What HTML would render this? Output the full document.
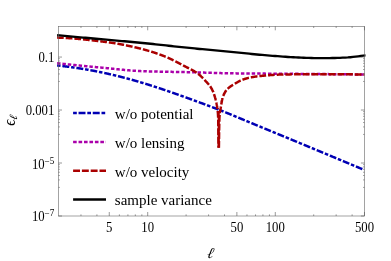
<!DOCTYPE html>
<html><head><meta charset="utf-8"><style>
html,body{margin:0;padding:0;background:#fff;}
svg{display:block;will-change:transform;font-family:"Liberation Serif",serif;}
</style></head><body>
<svg width="391" height="261" viewBox="0 0 391 261">
<rect width="391" height="261" fill="#fff"/>
<defs><clipPath id="c"><rect x="57.1" y="26.3" width="308.4" height="189.7"/></clipPath></defs>
<g clip-path="url(#c)" fill="none" stroke-linecap="butt" stroke-linejoin="round">
<path d="M57.00 65.44 L57.30 65.47 L57.60 65.50 L57.89 65.54 L58.19 65.57 L58.49 65.60 L58.79 65.64 L59.09 65.67 L59.39 65.70 L59.68 65.74 L59.98 65.77 L60.28 65.80 L60.53 65.83 M62.37 66.05 L62.66 66.08 L62.96 66.12 L63.26 66.15 L63.56 66.19 L63.86 66.22 L64.15 66.26 L64.45 66.30 L64.75 66.33 L65.05 66.37 L65.34 66.41 L65.64 66.44 L65.94 66.48 L66.24 66.52 L66.53 66.56 L66.83 66.59 L67.13 66.63 L67.43 66.67 L67.72 66.71 L68.02 66.75 L68.32 66.79 L68.62 66.83 L68.91 66.86 L69.21 66.90 L69.26 66.91 M71.10 67.16 L71.39 67.20 L71.69 67.24 L71.99 67.28 L72.28 67.32 L72.58 67.36 L72.88 67.40 L73.18 67.44 L73.47 67.49 L73.77 67.53 L74.07 67.57 L74.36 67.61 L74.56 67.64 M76.39 67.91 L76.69 67.95 L76.99 68.00 L77.28 68.04 L77.58 68.09 L77.88 68.13 L78.17 68.18 L78.47 68.22 L78.77 68.27 L79.06 68.31 L79.36 68.36 L79.65 68.40 L79.95 68.45 L80.25 68.50 L80.54 68.54 L80.84 68.59 L81.14 68.64 L81.43 68.68 L81.73 68.73 L82.03 68.78 L82.32 68.83 L82.62 68.87 L82.91 68.92 L83.21 68.97 L83.26 68.98 M85.08 69.28 L85.38 69.33 L85.68 69.38 L85.97 69.43 L86.27 69.48 L86.56 69.53 L86.86 69.58 L87.15 69.63 L87.45 69.69 L87.75 69.74 L88.04 69.79 L88.34 69.84 L88.53 69.88 M90.35 70.20 L90.65 70.25 L90.95 70.31 L91.24 70.36 L91.54 70.41 L91.83 70.47 L92.13 70.52 L92.42 70.58 L92.72 70.63 L93.01 70.69 L93.31 70.74 L93.60 70.80 L93.89 70.85 L94.19 70.91 L94.48 70.97 L94.78 71.02 L95.07 71.08 L95.37 71.14 L95.66 71.19 L95.96 71.25 L96.25 71.31 L96.55 71.36 L96.84 71.42 L97.13 71.48 L97.18 71.49 M99.00 71.85 L99.29 71.91 L99.59 71.97 L99.88 72.03 L100.17 72.09 L100.47 72.15 L100.76 72.21 L101.06 72.27 L101.35 72.33 L101.64 72.39 L101.94 72.45 L102.23 72.52 L102.43 72.56 M104.24 72.94 L104.53 73.00 L104.82 73.07 L105.12 73.13 L105.41 73.19 L105.70 73.26 L106.00 73.32 L106.29 73.39 L106.58 73.45 L106.87 73.51 L107.17 73.58 L107.46 73.64 L107.75 73.71 L108.05 73.77 L108.34 73.84 L108.63 73.91 L108.92 73.97 L109.22 74.04 L109.51 74.10 L109.80 74.17 L110.09 74.24 L110.39 74.31 L110.68 74.37 L110.97 74.44 L111.02 74.45 M112.82 74.87 L113.11 74.94 L113.41 75.01 L113.70 75.08 L113.99 75.15 L114.28 75.22 L114.57 75.29 L114.86 75.36 L115.16 75.43 L115.45 75.50 L115.74 75.57 L116.03 75.64 L116.23 75.69 M118.02 76.13 L118.31 76.20 L118.60 76.27 L118.90 76.34 L119.19 76.42 L119.48 76.49 L119.77 76.56 L120.06 76.64 L120.35 76.71 L120.64 76.78 L120.93 76.86 L121.22 76.93 L121.51 77.01 L121.80 77.08 L122.09 77.16 L122.38 77.23 L122.67 77.31 L122.97 77.38 L123.26 77.46 L123.55 77.53 L123.84 77.61 L124.13 77.68 L124.42 77.76 L124.71 77.84 L124.76 77.85 M126.54 78.32 L126.83 78.40 L127.12 78.48 L127.41 78.56 L127.70 78.63 L127.99 78.71 L128.28 78.79 L128.57 78.87 L128.86 78.95 L129.15 79.03 L129.44 79.11 L129.73 79.19 L129.92 79.24 M131.70 79.73 L131.99 79.81 L132.28 79.90 L132.57 79.98 L132.86 80.06 L133.15 80.14 L133.44 80.22 L133.73 80.30 L134.01 80.38 L134.30 80.47 L134.59 80.55 L134.88 80.63 L135.17 80.71 L135.46 80.80 L135.74 80.88 L136.03 80.96 L136.32 81.04 L136.61 81.13 L136.90 81.21 L137.19 81.30 L137.47 81.38 L137.76 81.46 L138.05 81.55 L138.34 81.63 L138.39 81.65 M140.16 82.17 L140.45 82.25 L140.74 82.34 L141.02 82.43 L141.31 82.51 L141.60 82.60 L141.88 82.68 L142.17 82.77 L142.46 82.86 L142.75 82.94 L143.03 83.03 L143.32 83.12 L143.51 83.18 M145.28 83.72 L145.57 83.80 L145.86 83.89 L146.14 83.98 L146.43 84.07 L146.71 84.16 L147.00 84.25 L147.29 84.34 L147.57 84.42 L147.86 84.51 L148.15 84.60 L148.43 84.69 L148.72 84.78 L149.01 84.87 L149.29 84.96 L149.58 85.05 L149.86 85.14 L150.15 85.23 L150.44 85.32 L150.72 85.41 L151.01 85.50 L151.29 85.59 L151.58 85.69 L151.87 85.78 L151.91 85.79 M153.68 86.36 L153.96 86.45 L154.25 86.54 L154.53 86.63 L154.82 86.73 L155.10 86.82 L155.39 86.91 L155.67 87.00 L155.96 87.10 L156.24 87.19 L156.53 87.28 L156.81 87.38 L157.00 87.44 M158.76 88.02 L159.05 88.11 L159.33 88.21 L159.62 88.30 L159.90 88.40 L160.18 88.49 L160.47 88.59 L160.75 88.68 L161.04 88.77 L161.32 88.87 L161.61 88.97 L161.89 89.06 L162.18 89.16 L162.46 89.25 L162.75 89.35 L163.03 89.44 L163.31 89.54 L163.60 89.64 L163.88 89.73 L164.17 89.83 L164.45 89.92 L164.73 90.02 L165.02 90.12 L165.30 90.21 L165.35 90.23 M167.10 90.83 L167.38 90.93 L167.67 91.02 L167.95 91.12 L168.24 91.22 L168.52 91.32 L168.80 91.41 L169.09 91.51 L169.37 91.61 L169.65 91.71 L169.94 91.81 L170.22 91.90 L170.41 91.97 M172.16 92.58 L172.44 92.68 L172.72 92.78 L173.01 92.87 L173.29 92.97 L173.57 93.07 L173.85 93.17 L174.14 93.27 L174.42 93.37 L174.70 93.47 L174.99 93.57 L175.27 93.67 L175.55 93.77 L175.84 93.87 L176.12 93.97 L176.40 94.07 L176.68 94.17 L176.97 94.27 L177.25 94.37 L177.53 94.47 L177.82 94.57 L178.10 94.67 L178.38 94.77 L178.66 94.87 L178.71 94.89 M180.45 95.51 L180.74 95.61 L181.02 95.71 L181.30 95.81 L181.58 95.91 L181.87 96.01 L182.15 96.12 L182.43 96.22 L182.71 96.32 L183.00 96.42 L183.28 96.52 L183.56 96.62 L183.75 96.69 M185.49 97.32 L185.77 97.42 L186.05 97.52 L186.34 97.62 L186.62 97.72 L186.90 97.82 L187.18 97.93 L187.46 98.03 L187.75 98.13 L188.03 98.23 L188.31 98.33 L188.59 98.44 L188.88 98.54 L189.16 98.64 L189.44 98.74 L189.72 98.84 L190.00 98.95 L190.29 99.05 L190.57 99.15 L190.85 99.25 L191.13 99.36 L191.41 99.46 L191.70 99.56 L191.98 99.66 L192.02 99.68 M193.76 100.31 L194.05 100.41 L194.33 100.52 L194.61 100.62 L194.89 100.72 L195.17 100.83 L195.45 100.93 L195.74 101.03 L196.02 101.13 L196.30 101.24 L196.58 101.34 L196.86 101.44 L197.05 101.51 M198.79 102.15 L199.07 102.25 L199.35 102.35 L199.63 102.46 L199.92 102.56 L200.20 102.66 L200.48 102.77 L200.76 102.87 L201.04 102.97 L201.32 103.08 L201.61 103.18 L201.89 103.28 L202.17 103.39 L202.45 103.49 L202.73 103.59 L203.01 103.70 L203.29 103.80 L203.58 103.91 L203.86 104.01 L204.14 104.11 L204.42 104.22 L204.70 104.32 L204.98 104.43 L205.26 104.53 L205.31 104.55 M207.04 105.19 L207.33 105.30 L207.61 105.40 L207.89 105.51 L208.17 105.61 L208.45 105.72 L208.73 105.83 L209.01 105.93 L209.29 106.04 L209.57 106.14 L209.85 106.25 L210.13 106.35 L210.32 106.42 M212.05 107.08 L212.33 107.19 L212.61 107.29 L212.89 107.40 L213.17 107.51 L213.45 107.61 L213.73 107.72 L214.01 107.83 L214.29 107.94 L214.57 108.04 L214.85 108.15 L215.13 108.26 L215.41 108.37 L215.69 108.47 L215.97 108.58 L216.25 108.69 L216.53 108.80 L216.81 108.91 L217.09 109.02 L217.37 109.12 L217.65 109.23 L217.93 109.34 L218.21 109.45 L218.49 109.56 L218.54 109.58 M220.26 110.26 L220.54 110.37 L220.82 110.48 L221.09 110.59 L221.37 110.70 L221.65 110.81 L221.93 110.92 L222.21 111.03 L222.49 111.14 L222.77 111.25 L223.05 111.36 L223.32 111.47 L223.51 111.55 M225.23 112.24 L225.51 112.35 L225.78 112.46 L226.06 112.57 L226.34 112.69 L226.62 112.80 L226.90 112.91 L227.17 113.03 L227.45 113.14 L227.73 113.25 L228.01 113.36 L228.29 113.48 L228.56 113.59 L228.84 113.70 L229.12 113.82 L229.40 113.93 L229.67 114.05 L229.95 114.16 L230.23 114.27 L230.51 114.39 L230.78 114.50 L231.06 114.61 L231.34 114.73 L231.62 114.84 L231.66 114.86 M233.37 115.57 L233.65 115.68 L233.93 115.80 L234.20 115.91 L234.48 116.03 L234.76 116.14 L235.04 116.26 L235.31 116.37 L235.59 116.49 L235.87 116.60 L236.14 116.72 L236.42 116.83 L236.61 116.91 M238.31 117.62 L238.59 117.73 L238.87 117.85 L239.15 117.96 L239.42 118.08 L239.70 118.19 L239.98 118.31 L240.25 118.42 L240.53 118.54 L240.81 118.66 L241.08 118.77 L241.36 118.89 L241.64 119.00 L241.91 119.12 L242.19 119.23 L242.47 119.35 L242.75 119.46 L243.02 119.58 L243.30 119.69 L243.58 119.81 L243.85 119.92 L244.13 120.04 L244.41 120.15 L244.68 120.27 L244.73 120.29 M246.44 121.00 L246.71 121.12 L246.99 121.23 L247.27 121.35 L247.55 121.46 L247.82 121.58 L248.10 121.69 L248.38 121.81 L248.65 121.92 L248.93 122.04 L249.21 122.15 L249.48 122.27 L249.67 122.34 M251.38 123.05 L251.66 123.17 L251.93 123.28 L252.21 123.40 L252.49 123.51 L252.76 123.63 L253.04 123.74 L253.32 123.86 L253.59 123.97 L253.87 124.09 L254.15 124.20 L254.43 124.32 L254.70 124.43 L254.98 124.55 L255.26 124.66 L255.54 124.78 L255.81 124.89 L256.09 125.01 L256.37 125.12 L256.64 125.24 L256.92 125.35 L257.20 125.46 L257.48 125.58 L257.75 125.69 L257.80 125.71 M259.51 126.42 L259.79 126.53 L260.06 126.65 L260.34 126.76 L260.62 126.88 L260.90 126.99 L261.17 127.11 L261.45 127.22 L261.73 127.33 L262.00 127.45 L262.28 127.56 L262.56 127.68 L262.74 127.75 M264.45 128.46 L264.73 128.57 L265.01 128.69 L265.29 128.80 L265.56 128.92 L265.84 129.03 L266.12 129.14 L266.40 129.26 L266.67 129.37 L266.95 129.49 L267.23 129.60 L267.51 129.72 L267.78 129.83 L268.06 129.94 L268.34 130.06 L268.62 130.17 L268.89 130.29 L269.17 130.40 L269.45 130.52 L269.72 130.63 L270.00 130.75 L270.28 130.86 L270.56 130.97 L270.83 131.09 L270.88 131.11 M272.59 131.81 L272.87 131.93 L273.15 132.04 L273.42 132.15 L273.70 132.27 L273.98 132.38 L274.26 132.50 L274.53 132.61 L274.81 132.73 L275.09 132.84 L275.36 132.96 L275.64 133.07 L275.83 133.15 M277.54 133.85 L277.81 133.97 L278.09 134.08 L278.37 134.19 L278.65 134.31 L278.92 134.42 L279.20 134.54 L279.48 134.65 L279.76 134.77 L280.03 134.88 L280.31 135.00 L280.59 135.11 L280.86 135.22 L281.14 135.34 L281.42 135.45 L281.70 135.57 L281.97 135.68 L282.25 135.80 L282.53 135.91 L282.81 136.03 L283.08 136.14 L283.36 136.26 L283.64 136.37 L283.91 136.48 L283.96 136.50 M285.67 137.21 L285.95 137.33 L286.22 137.44 L286.50 137.55 L286.78 137.67 L287.06 137.78 L287.33 137.90 L287.61 138.01 L287.89 138.13 L288.17 138.24 L288.44 138.36 L288.72 138.47 L288.90 138.55 M290.61 139.26 L290.89 139.37 L291.17 139.49 L291.45 139.60 L291.72 139.72 L292.00 139.83 L292.28 139.94 L292.55 140.06 L292.83 140.17 L293.11 140.29 L293.39 140.40 L293.66 140.52 L293.94 140.63 L294.22 140.75 L294.49 140.86 L294.77 140.98 L295.05 141.09 L295.33 141.21 L295.60 141.32 L295.88 141.44 L296.16 141.55 L296.43 141.67 L296.71 141.78 L296.99 141.90 L297.03 141.92 M298.74 142.63 L299.02 142.74 L299.30 142.85 L299.57 142.97 L299.85 143.08 L300.13 143.20 L300.41 143.31 L300.68 143.43 L300.96 143.54 L301.24 143.66 L301.51 143.77 L301.79 143.89 L301.98 143.97 M303.68 144.68 L303.96 144.79 L304.24 144.91 L304.52 145.02 L304.79 145.14 L305.07 145.25 L305.35 145.37 L305.62 145.48 L305.90 145.60 L306.18 145.71 L306.46 145.83 L306.73 145.94 L307.01 146.06 L307.29 146.17 L307.56 146.29 L307.84 146.40 L308.12 146.52 L308.39 146.63 L308.67 146.75 L308.95 146.86 L309.23 146.98 L309.50 147.09 L309.78 147.21 L310.06 147.32 L310.10 147.34 M311.81 148.05 L312.09 148.17 L312.36 148.28 L312.64 148.40 L312.92 148.51 L313.20 148.63 L313.47 148.74 L313.75 148.86 L314.03 148.98 L314.30 149.09 L314.58 149.21 L314.86 149.32 L315.04 149.40 M316.75 150.11 L317.03 150.22 L317.30 150.34 L317.58 150.45 L317.86 150.57 L318.13 150.69 L318.41 150.80 L318.69 150.92 L318.97 151.03 L319.24 151.15 L319.52 151.26 L319.80 151.38 L320.07 151.49 L320.35 151.61 L320.63 151.72 L320.90 151.84 L321.18 151.95 L321.46 152.07 L321.74 152.18 L322.01 152.30 L322.29 152.42 L322.57 152.53 L322.84 152.65 L323.12 152.76 L323.17 152.78 M324.87 153.49 L325.15 153.61 L325.43 153.72 L325.70 153.84 L325.98 153.95 L326.26 154.07 L326.54 154.18 L326.81 154.30 L327.09 154.42 L327.37 154.53 L327.64 154.65 L327.92 154.76 L328.10 154.84 M329.81 155.55 L330.09 155.67 L330.37 155.78 L330.64 155.90 L330.92 156.01 L331.20 156.13 L331.47 156.24 L331.75 156.36 L332.03 156.47 L332.30 156.59 L332.58 156.71 L332.86 156.82 L333.13 156.94 L333.41 157.05 L333.69 157.17 L333.96 157.28 L334.24 157.40 L334.52 157.51 L334.80 157.63 L335.07 157.74 L335.35 157.86 L335.63 157.98 L335.90 158.09 L336.18 158.21 L336.23 158.23 M337.93 158.94 L338.21 159.05 L338.49 159.17 L338.76 159.29 L339.04 159.40 L339.32 159.52 L339.59 159.63 L339.87 159.75 L340.15 159.86 L340.42 159.98 L340.70 160.09 L340.98 160.21 L341.16 160.29 M342.87 161.00 L343.15 161.12 L343.42 161.23 L343.70 161.35 L343.98 161.46 L344.25 161.58 L344.53 161.69 L344.81 161.81 L345.09 161.92 L345.36 162.04 L345.64 162.16 L345.92 162.27 L346.19 162.39 L346.47 162.50 L346.75 162.62 L347.02 162.73 L347.30 162.85 L347.58 162.96 L347.85 163.08 L348.13 163.20 L348.41 163.31 L348.68 163.43 L348.96 163.54 L349.24 163.66 L349.28 163.68 M350.99 164.39 L351.27 164.51 L351.54 164.62 L351.82 164.74 L352.10 164.85 L352.37 164.97 L352.65 165.08 L352.93 165.20 L353.21 165.32 L353.48 165.43 L353.76 165.55 L354.04 165.66 L354.22 165.74 M355.93 166.45 L356.20 166.57 L356.48 166.68 L356.76 166.80 L357.03 166.92 L357.31 167.03 L357.59 167.15 L357.86 167.26 L358.14 167.38 L358.42 167.49 L358.69 167.61 L358.97 167.73 L359.25 167.84 L359.53 167.96 L359.80 168.07 L360.08 168.19 L360.36 168.30 L360.63 168.42 L360.91 168.54 L361.19 168.65 L361.46 168.77 L361.74 168.88 L362.02 169.00 L362.29 169.11 L362.34 169.13" stroke="#0000b4" stroke-width="2.5"/>
<path d="M57.00 63.20 L57.30 63.23 L57.60 63.26 L57.89 63.30 L58.19 63.33 L58.49 63.36 L58.79 63.39 L59.09 63.42 L59.39 63.46 L59.68 63.49 L59.98 63.52 L60.28 63.55 L60.48 63.57 M62.42 63.78 L62.72 63.81 L63.02 63.84 L63.31 63.87 L63.61 63.90 L63.91 63.94 L64.21 63.97 L64.51 64.00 L64.81 64.03 L65.10 64.06 L65.40 64.09 L65.70 64.12 L65.85 64.14 M67.79 64.34 L68.09 64.37 L68.39 64.40 L68.68 64.43 L68.98 64.47 L69.28 64.50 L69.58 64.53 L69.88 64.56 L70.18 64.59 L70.47 64.62 L70.77 64.65 L71.07 64.68 L71.22 64.70 M73.21 64.90 L73.51 64.93 L73.81 64.96 L74.10 64.99 L74.40 65.02 L74.70 65.05 L75.00 65.08 L75.30 65.11 L75.60 65.14 L75.89 65.17 L76.19 65.20 L76.49 65.23 L76.64 65.25 M78.58 65.44 L78.88 65.47 L79.18 65.50 L79.48 65.53 L79.78 65.56 L80.07 65.59 L80.37 65.62 L80.67 65.65 L80.97 65.68 L81.27 65.71 L81.57 65.74 L81.86 65.77 L82.01 65.79 M84.00 65.98 L84.30 66.01 L84.60 66.04 L84.90 66.07 L85.20 66.10 L85.50 66.13 L85.80 66.16 L86.09 66.19 L86.39 66.21 L86.69 66.24 L86.99 66.27 L87.29 66.30 L87.44 66.32 M89.38 66.50 L89.68 66.53 L89.98 66.56 L90.27 66.59 L90.57 66.62 L90.87 66.65 L91.17 66.67 L91.47 66.70 L91.77 66.73 L92.07 66.76 L92.36 66.79 L92.66 66.82 L92.81 66.83 M94.75 67.01 L95.05 67.04 L95.35 67.07 L95.65 67.10 L95.95 67.13 L96.25 67.15 L96.55 67.18 L96.84 67.21 L97.14 67.24 L97.44 67.26 L97.74 67.29 L98.04 67.32 L98.19 67.33 M100.18 67.52 L100.48 67.54 L100.78 67.57 L101.08 67.60 L101.37 67.63 L101.67 67.66 L101.97 67.68 L102.27 67.71 L102.57 67.74 L102.87 67.77 L103.17 67.80 L103.46 67.83 L103.61 67.84 M105.55 68.03 L105.85 68.06 L106.15 68.09 L106.45 68.12 L106.75 68.15 L107.05 68.18 L107.35 68.21 L107.64 68.24 L107.94 68.27 L108.24 68.30 L108.54 68.33 L108.84 68.36 L108.99 68.38 M110.98 68.58 L111.27 68.61 L111.57 68.64 L111.87 68.67 L112.17 68.70 L112.47 68.73 L112.77 68.76 L113.06 68.79 L113.36 68.82 L113.66 68.85 L113.96 68.88 L114.26 68.91 L114.41 68.93 M116.35 69.13 L116.65 69.16 L116.94 69.19 L117.24 69.22 L117.54 69.25 L117.84 69.28 L118.14 69.31 L118.44 69.34 L118.74 69.37 L119.03 69.39 L119.33 69.42 L119.63 69.45 L119.78 69.47 M121.72 69.66 L122.02 69.69 L122.32 69.72 L122.62 69.74 L122.91 69.77 L123.21 69.80 L123.51 69.83 L123.81 69.86 L124.11 69.89 L124.41 69.91 L124.71 69.94 L125.01 69.97 L125.15 69.98 M127.15 70.16 L127.45 70.19 L127.74 70.21 L128.04 70.24 L128.34 70.27 L128.64 70.29 L128.94 70.32 L129.24 70.34 L129.54 70.37 L129.84 70.39 L130.14 70.42 L130.43 70.44 L130.58 70.45 M132.53 70.60 L132.83 70.63 L133.13 70.65 L133.43 70.67 L133.72 70.69 L134.02 70.71 L134.32 70.74 L134.62 70.76 L134.92 70.78 L135.22 70.80 L135.52 70.82 L135.82 70.84 L135.97 70.85 M137.96 70.97 L138.26 70.99 L138.56 71.01 L138.86 71.03 L139.16 71.04 L139.46 71.06 L139.76 71.07 L140.06 71.09 L140.36 71.11 L140.66 71.12 L140.96 71.14 L141.26 71.15 L141.41 71.16 M143.36 71.24 L143.66 71.25 L143.96 71.26 L144.26 71.27 L144.56 71.28 L144.86 71.30 L145.16 71.30 L145.46 71.31 L145.76 71.32 L146.06 71.33 L146.36 71.34 L146.65 71.35 L146.80 71.36 M148.80 71.41 L149.10 71.42 L149.40 71.43 L149.70 71.44 L150.00 71.45 L150.30 71.46 L150.60 71.46 L150.90 71.47 L151.20 71.48 L151.50 71.49 L151.80 71.49 L152.10 71.50 L152.25 71.50 M154.20 71.55 L154.50 71.56 L154.80 71.56 L155.10 71.57 L155.40 71.58 L155.70 71.58 L156.00 71.59 L156.30 71.60 L156.60 71.60 L156.90 71.61 L157.20 71.62 L157.50 71.62 L157.65 71.63 M159.60 71.66 L159.90 71.67 L160.20 71.68 L160.50 71.68 L160.80 71.69 L161.10 71.69 L161.40 71.70 L161.70 71.70 L162.00 71.71 L162.30 71.71 L162.60 71.72 L162.90 71.72 L163.05 71.73 M165.05 71.76 L165.35 71.77 L165.65 71.77 L165.95 71.78 L166.25 71.78 L166.55 71.79 L166.85 71.79 L167.15 71.80 L167.45 71.80 L167.75 71.81 L168.05 71.81 L168.35 71.81 L168.50 71.82 M170.45 71.85 L170.75 71.85 L171.05 71.86 L171.35 71.86 L171.65 71.87 L171.95 71.87 L172.25 71.88 L172.55 71.88 L172.85 71.89 L173.15 71.89 L173.45 71.90 L173.75 71.90 L173.90 71.90 M175.90 71.93 L176.20 71.94 L176.50 71.94 L176.80 71.95 L177.10 71.95 L177.40 71.96 L177.70 71.96 L177.99 71.97 L178.29 71.97 L178.59 71.98 L178.89 71.98 L179.19 71.99 L179.34 71.99 M181.29 72.02 L181.59 72.03 L181.89 72.04 L182.19 72.04 L182.49 72.05 L182.79 72.05 L183.09 72.06 L183.39 72.06 L183.69 72.07 L183.99 72.07 L184.29 72.08 L184.59 72.09 L184.74 72.09 M186.69 72.13 L186.99 72.13 L187.29 72.14 L187.59 72.15 L187.89 72.15 L188.19 72.16 L188.49 72.17 L188.79 72.17 L189.09 72.18 L189.39 72.19 L189.69 72.19 L189.99 72.20 L190.14 72.20 M192.14 72.25 L192.44 72.26 L192.74 72.27 L193.04 72.28 L193.34 72.28 L193.64 72.29 L193.94 72.30 L194.24 72.31 L194.54 72.32 L194.84 72.32 L195.14 72.33 L195.44 72.34 L195.59 72.35 M197.54 72.40 L197.84 72.41 L198.14 72.42 L198.44 72.43 L198.74 72.44 L199.04 72.45 L199.34 72.46 L199.64 72.47 L199.94 72.47 L200.24 72.48 L200.54 72.49 L200.84 72.50 L200.99 72.51 M202.98 72.57 L203.28 72.58 L203.58 72.59 L203.88 72.60 L204.18 72.61 L204.48 72.62 L204.78 72.63 L205.08 72.64 L205.38 72.65 L205.68 72.66 L205.98 72.67 L206.28 72.68 L206.43 72.68 M208.38 72.74 L208.68 72.75 L208.98 72.76 L209.28 72.77 L209.58 72.78 L209.88 72.79 L210.18 72.80 L210.48 72.81 L210.78 72.82 L211.08 72.83 L211.38 72.84 L211.68 72.85 L211.83 72.85 M213.78 72.91 L214.08 72.92 L214.38 72.93 L214.68 72.94 L214.98 72.95 L215.28 72.96 L215.58 72.97 L215.88 72.98 L216.18 72.99 L216.48 73.00 L216.78 73.00 L217.08 73.01 L217.23 73.02 M219.22 73.07 L219.52 73.08 L219.82 73.09 L220.12 73.10 L220.42 73.10 L220.72 73.11 L221.02 73.12 L221.32 73.13 L221.62 73.13 L221.92 73.14 L222.22 73.15 L222.52 73.16 L222.67 73.16 M224.62 73.20 L224.92 73.21 L225.22 73.22 L225.52 73.22 L225.82 73.23 L226.12 73.23 L226.42 73.24 L226.72 73.25 L227.02 73.25 L227.32 73.26 L227.62 73.26 L227.92 73.27 L228.07 73.27 M230.07 73.30 L230.37 73.31 L230.67 73.31 L230.97 73.31 L231.27 73.32 L231.57 73.32 L231.87 73.32 L232.17 73.33 L232.47 73.33 L232.77 73.34 L233.07 73.34 L233.37 73.34 L233.52 73.35 M235.47 73.37 L235.77 73.37 L236.07 73.37 L236.37 73.38 L236.67 73.38 L236.97 73.38 L237.27 73.39 L237.57 73.39 L237.87 73.39 L238.17 73.40 L238.47 73.40 L238.77 73.40 L238.92 73.40 M240.92 73.42 L241.22 73.42 L241.52 73.43 L241.82 73.43 L242.12 73.43 L242.42 73.43 L242.72 73.44 L243.02 73.44 L243.32 73.44 L243.62 73.44 L243.92 73.45 L244.22 73.45 L244.37 73.45 M246.32 73.47 L246.62 73.47 L246.92 73.47 L247.22 73.48 L247.52 73.48 L247.82 73.48 L248.12 73.48 L248.42 73.49 L248.72 73.49 L249.02 73.49 L249.32 73.49 L249.62 73.50 L249.77 73.50 M251.72 73.52 L252.02 73.52 L252.32 73.52 L252.62 73.52 L252.92 73.53 L253.22 73.53 L253.52 73.53 L253.82 73.53 L254.12 73.54 L254.42 73.54 L254.72 73.54 L255.02 73.54 L255.17 73.54 M257.17 73.56 L257.47 73.56 L257.77 73.57 L258.07 73.57 L258.37 73.57 L258.67 73.57 L258.97 73.58 L259.27 73.58 L259.57 73.58 L259.87 73.58 L260.17 73.59 L260.47 73.59 L260.62 73.59 M262.57 73.60 L262.87 73.61 L263.17 73.61 L263.47 73.61 L263.77 73.61 L264.07 73.62 L264.37 73.62 L264.67 73.62 L264.97 73.62 L265.27 73.63 L265.57 73.63 L265.87 73.63 L266.02 73.63 M268.02 73.65 L268.32 73.65 L268.61 73.65 L268.91 73.65 L269.21 73.65 L269.51 73.66 L269.81 73.66 L270.11 73.66 L270.41 73.66 L270.71 73.67 L271.01 73.67 L271.31 73.67 L271.46 73.67 M273.41 73.69 L273.71 73.69 L274.01 73.69 L274.31 73.69 L274.61 73.69 L274.91 73.70 L275.21 73.70 L275.51 73.70 L275.81 73.70 L276.11 73.71 L276.41 73.71 L276.71 73.71 L276.86 73.71 M278.81 73.72 L279.11 73.73 L279.41 73.73 L279.71 73.73 L280.01 73.73 L280.31 73.74 L280.61 73.74 L280.91 73.74 L281.21 73.74 L281.51 73.74 L281.81 73.75 L282.11 73.75 L282.26 73.75 M284.26 73.76 L284.56 73.77 L284.86 73.77 L285.16 73.77 L285.46 73.77 L285.76 73.77 L286.06 73.78 L286.36 73.78 L286.66 73.78 L286.96 73.78 L287.26 73.78 L287.56 73.79 L287.71 73.79 M289.66 73.80 L289.96 73.80 L290.26 73.81 L290.56 73.81 L290.86 73.81 L291.16 73.81 L291.46 73.82 L291.76 73.82 L292.06 73.82 L292.36 73.82 L292.66 73.82 L292.96 73.83 L293.11 73.83 M295.11 73.84 L295.41 73.84 L295.71 73.85 L296.01 73.85 L296.31 73.85 L296.61 73.85 L296.91 73.85 L297.21 73.86 L297.51 73.86 L297.81 73.86 L298.11 73.86 L298.41 73.87 L298.56 73.87 M300.51 73.88 L300.81 73.88 L301.11 73.89 L301.41 73.89 L301.71 73.89 L302.01 73.89 L302.31 73.90 L302.61 73.90 L302.91 73.90 L303.21 73.90 L303.51 73.91 L303.81 73.91 L303.96 73.91 M305.91 73.92 L306.21 73.93 L306.51 73.93 L306.81 73.93 L307.11 73.93 L307.41 73.94 L307.71 73.94 L308.01 73.94 L308.31 73.94 L308.61 73.95 L308.91 73.95 L309.21 73.95 L309.41 73.95 M311.36 73.97 L311.66 73.97 L311.96 73.97 L312.26 73.98 L312.56 73.98 L312.86 73.98 L313.16 73.98 L313.46 73.99 L313.76 73.99 L314.06 73.99 L314.36 73.99 L314.66 74.00 L314.81 74.00 M316.76 74.02 L317.06 74.02 L317.36 74.02 L317.66 74.02 L317.96 74.03 L318.26 74.03 L318.56 74.03 L318.86 74.03 L319.16 74.04 L319.46 74.04 L319.76 74.04 L320.06 74.05 L320.21 74.05 M322.21 74.06 L322.51 74.07 L322.81 74.07 L323.11 74.07 L323.41 74.08 L323.71 74.08 L324.01 74.08 L324.31 74.08 L324.61 74.09 L324.91 74.09 L325.21 74.09 L325.51 74.10 L325.66 74.10 M327.61 74.12 L327.91 74.12 L328.21 74.12 L328.51 74.12 L328.81 74.13 L329.11 74.13 L329.41 74.13 L329.71 74.14 L330.01 74.14 L330.31 74.14 L330.61 74.14 L330.91 74.15 L331.06 74.15 M333.06 74.17 L333.36 74.17 L333.66 74.17 L333.96 74.18 L334.26 74.18 L334.56 74.18 L334.86 74.19 L335.16 74.19 L335.45 74.19 L335.75 74.20 L336.05 74.20 L336.35 74.20 L336.50 74.20 M338.45 74.22 L338.75 74.23 L339.05 74.23 L339.35 74.23 L339.65 74.23 L339.95 74.24 L340.25 74.24 L340.55 74.24 L340.85 74.25 L341.15 74.25 L341.45 74.25 L341.75 74.26 L341.90 74.26 M343.85 74.28 L344.15 74.28 L344.45 74.28 L344.75 74.29 L345.05 74.29 L345.35 74.29 L345.65 74.30 L345.95 74.30 L346.25 74.30 L346.55 74.31 L346.85 74.31 L347.15 74.31 L347.30 74.31 M349.30 74.33 L349.60 74.34 L349.90 74.34 L350.20 74.34 L350.50 74.35 L350.80 74.35 L351.10 74.35 L351.40 74.36 L351.70 74.36 L352.00 74.36 L352.30 74.37 L352.60 74.37 L352.75 74.37 M354.70 74.39 L355.00 74.40 L355.30 74.40 L355.60 74.40 L355.90 74.41 L356.20 74.41 L356.50 74.41 L356.80 74.42 L357.10 74.42 L357.40 74.42 L357.70 74.43 L358.00 74.43 L358.15 74.43 M360.15 74.45 L360.45 74.46 L360.75 74.46 L361.05 74.46 L361.35 74.47 L361.65 74.47 L361.95 74.47 L362.25 74.48 L362.55 74.48 L362.85 74.48 L363.15 74.48 L363.45 74.49 L363.60 74.49" stroke="#aa00aa" stroke-width="2.5"/>
<path d="M57.00 37.60 L57.30 37.61 L57.60 37.62 L57.90 37.63 L58.20 37.63 L58.50 37.64 L58.80 37.65 L59.10 37.66 L59.40 37.67 L59.70 37.69 L60.00 37.70 L60.30 37.71 L60.60 37.72 L60.90 37.73 L61.20 37.74 L61.50 37.76 L61.80 37.77 L62.10 37.78 L62.40 37.80 L62.70 37.81 L62.99 37.82 L63.29 37.84 L63.59 37.85 L63.74 37.86 M65.69 37.96 L65.99 37.98 L66.29 38.00 L66.59 38.01 L66.89 38.03 L67.19 38.05 L67.49 38.07 L67.79 38.09 L68.09 38.10 L68.39 38.12 L68.69 38.14 L68.98 38.16 L69.28 38.18 L69.58 38.20 L69.88 38.22 L70.18 38.24 L70.48 38.26 L70.78 38.28 L71.08 38.31 L71.38 38.33 L71.68 38.35 L71.98 38.37 L72.28 38.39 L72.43 38.40 M74.37 38.55 L74.67 38.58 L74.97 38.60 L75.27 38.63 L75.57 38.65 L75.86 38.68 L76.16 38.70 L76.46 38.73 L76.76 38.75 L77.06 38.78 L77.36 38.80 L77.66 38.83 L77.96 38.86 L78.25 38.88 L78.55 38.91 L78.85 38.94 L79.15 38.96 L79.45 38.99 L79.75 39.02 L80.05 39.05 L80.35 39.08 L80.64 39.10 L80.94 39.13 L81.04 39.14 M82.98 39.33 L83.28 39.36 L83.58 39.39 L83.88 39.42 L84.18 39.45 L84.48 39.48 L84.77 39.51 L85.07 39.54 L85.37 39.57 L85.67 39.60 L85.97 39.64 L86.27 39.67 L86.56 39.70 L86.86 39.73 L87.16 39.76 L87.46 39.79 L87.76 39.83 L88.06 39.86 L88.35 39.89 L88.65 39.92 L88.95 39.96 L89.25 39.99 L89.55 40.02 L89.70 40.04 M91.63 40.26 L91.93 40.29 L92.23 40.32 L92.53 40.36 L92.82 40.39 L93.12 40.43 L93.42 40.46 L93.72 40.50 L94.02 40.53 L94.31 40.57 L94.61 40.60 L94.91 40.64 L95.21 40.67 L95.51 40.71 L95.80 40.74 L96.10 40.78 L96.40 40.82 L96.70 40.85 L96.99 40.89 L97.29 40.92 L97.59 40.96 L97.89 41.00 L98.19 41.03 L98.29 41.04 M100.27 41.29 L100.57 41.33 L100.87 41.36 L101.16 41.40 L101.46 41.44 L101.76 41.47 L102.06 41.51 L102.35 41.55 L102.65 41.59 L102.95 41.62 L103.25 41.66 L103.54 41.70 L103.84 41.74 L104.14 41.78 L104.44 41.81 L104.73 41.85 L105.03 41.89 L105.33 41.93 L105.63 41.97 L105.92 42.00 L106.22 42.04 L106.52 42.08 L106.82 42.12 L106.92 42.13 M108.85 42.38 L109.15 42.42 L109.44 42.46 L109.74 42.50 L110.04 42.54 L110.34 42.58 L110.63 42.62 L110.93 42.66 L111.23 42.70 L111.52 42.74 L111.82 42.79 L112.12 42.83 L112.41 42.87 L112.71 42.92 L113.01 42.96 L113.30 43.01 L113.60 43.05 L113.90 43.10 L114.19 43.15 L114.49 43.19 L114.79 43.24 L115.08 43.29 L115.38 43.34 L115.53 43.36 M117.45 43.68 L117.75 43.73 L118.04 43.79 L118.34 43.84 L118.63 43.89 L118.93 43.94 L119.22 44.00 L119.52 44.05 L119.81 44.10 L120.11 44.16 L120.40 44.21 L120.70 44.27 L120.99 44.32 L121.29 44.38 L121.58 44.43 L121.88 44.49 L122.17 44.55 L122.47 44.60 L122.76 44.66 L123.05 44.72 L123.35 44.78 L123.64 44.83 L123.94 44.89 L124.03 44.91 M125.95 45.30 L126.24 45.36 L126.53 45.42 L126.83 45.48 L127.12 45.55 L127.41 45.61 L127.71 45.67 L128.00 45.73 L128.29 45.80 L128.59 45.86 L128.88 45.92 L129.17 45.99 L129.47 46.05 L129.76 46.11 L130.05 46.18 L130.34 46.24 L130.64 46.31 L130.93 46.37 L131.22 46.44 L131.52 46.50 L131.81 46.57 L132.10 46.64 L132.39 46.70 L132.54 46.74 M134.44 47.17 L134.73 47.24 L135.02 47.31 L135.32 47.38 L135.61 47.45 L135.90 47.51 L136.19 47.58 L136.48 47.65 L136.78 47.72 L137.07 47.79 L137.36 47.86 L137.65 47.93 L137.94 48.00 L138.23 48.07 L138.53 48.14 L138.82 48.21 L139.11 48.28 L139.40 48.35 L139.69 48.42 L139.98 48.50 L140.27 48.57 L140.57 48.64 L140.86 48.71 L141.00 48.75 M142.89 49.23 L143.18 49.31 L143.47 49.38 L143.76 49.46 L144.05 49.54 L144.34 49.62 L144.63 49.70 L144.92 49.78 L145.21 49.85 L145.50 49.93 L145.79 50.01 L146.08 50.10 L146.36 50.18 L146.65 50.26 L146.94 50.34 L147.23 50.42 L147.52 50.51 L147.81 50.59 L148.09 50.67 L148.38 50.76 L148.67 50.84 L148.96 50.93 L149.24 51.02 L149.34 51.04 M151.20 51.61 L151.49 51.70 L151.78 51.79 L152.06 51.88 L152.35 51.98 L152.63 52.07 L152.92 52.16 L153.21 52.25 L153.49 52.34 L153.78 52.44 L154.06 52.53 L154.35 52.62 L154.63 52.72 L154.92 52.81 L155.20 52.91 L155.48 53.00 L155.77 53.10 L156.05 53.19 L156.34 53.29 L156.62 53.39 L156.90 53.49 L157.19 53.58 L157.47 53.68 L157.61 53.73 M159.45 54.38 L159.73 54.49 L160.01 54.59 L160.30 54.69 L160.58 54.79 L160.86 54.90 L161.14 55.00 L161.42 55.11 L161.70 55.21 L161.98 55.32 L162.26 55.42 L162.55 55.53 L162.83 55.63 L163.11 55.74 L163.39 55.85 L163.67 55.96 L163.94 56.07 L164.22 56.18 L164.50 56.29 L164.78 56.40 L165.06 56.52 L165.33 56.63 L165.61 56.75 L165.70 56.78 M167.54 57.58 L167.81 57.70 L168.09 57.82 L168.36 57.94 L168.64 58.07 L168.91 58.19 L169.18 58.32 L169.45 58.44 L169.73 58.57 L170.00 58.69 L170.27 58.82 L170.54 58.95 L170.81 59.08 L171.08 59.21 L171.35 59.34 L171.62 59.47 L171.89 59.60 L172.16 59.73 L172.43 59.86 L172.70 59.99 L172.97 60.13 L173.24 60.26 L173.51 60.39 L173.60 60.44 M175.34 61.32 L175.60 61.45 L175.87 61.59 L176.14 61.73 L176.41 61.86 L176.67 62.00 L176.94 62.14 L177.20 62.28 L177.47 62.41 L177.74 62.55 L178.00 62.69 L178.27 62.83 L178.54 62.97 L178.80 63.11 L179.07 63.25 L179.33 63.39 L179.60 63.53 L179.86 63.66 L180.13 63.80 L180.39 63.94 L180.66 64.08 L180.92 64.22 L181.19 64.36 L181.32 64.43 M183.05 65.35 L183.31 65.49 L183.58 65.63 L183.84 65.77 L184.11 65.91 L184.37 66.05 L184.64 66.19 L184.90 66.32 L185.17 66.46 L185.43 66.60 L185.70 66.74 L185.97 66.88 L186.23 67.02 L186.50 67.16 L186.77 67.30 L187.03 67.43 L187.30 67.57 L187.57 67.70 L187.83 67.84 L188.10 67.97 L188.37 68.11 L188.64 68.24 L188.91 68.38 L189.00 68.42 M190.74 69.30 L191.00 69.44 L191.27 69.58 L191.54 69.71 L191.80 69.85 L192.07 69.99 L192.33 70.14 L192.60 70.28 L192.86 70.42 L193.12 70.57 L193.38 70.71 L193.65 70.86 L193.91 71.01 L194.17 71.16 L194.42 71.31 L194.68 71.46 L194.94 71.62 L195.20 71.77 L195.45 71.93 L195.70 72.09 L195.96 72.25 L196.21 72.42 L196.46 72.58 L196.58 72.67 M198.17 73.80 L198.41 73.98 L198.64 74.17 L198.87 74.36 L199.10 74.55 L199.33 74.74 L199.56 74.94 L199.79 75.14 L200.01 75.34 L200.23 75.54 L200.45 75.74 L200.67 75.95 L200.89 76.15 L201.11 76.36 L201.32 76.57 L201.54 76.78 L201.75 76.99 L201.96 77.20 L202.18 77.41 L202.39 77.62 L202.60 77.84 L202.81 78.05 L203.01 78.27 L203.12 78.38 M204.46 79.79 L204.66 80.01 L204.87 80.23 L205.07 80.45 L205.28 80.67 L205.48 80.89 L205.68 81.11 L205.89 81.33 L206.10 81.55 L206.30 81.77 L206.51 81.98 L206.72 82.20 L206.92 82.42 L207.13 82.64 L207.33 82.86 L207.54 83.08 L207.74 83.30 L207.94 83.52 L208.14 83.75 L208.33 83.97 L208.53 84.20 L208.72 84.43 L208.91 84.66 L208.98 84.74 M210.16 86.29 L210.33 86.54 L210.49 86.79 L210.66 87.04 L210.82 87.29 L210.98 87.54 L211.14 87.80 L211.30 88.05 L211.45 88.31 L211.60 88.57 L211.74 88.83 L211.88 89.10 L212.02 89.37 L212.15 89.63 L212.29 89.90 L212.41 90.18 L212.54 90.45 L212.66 90.72 L212.78 91.00 L212.90 91.27 L213.02 91.55 L213.13 91.83 L213.24 92.11 L213.30 92.24 M213.97 94.07 L214.07 94.36 L214.17 94.64 L214.26 94.93 L214.35 95.21 L214.45 95.50 L214.54 95.78 L214.63 96.07 L214.72 96.35 L214.81 96.64 L214.90 96.93 L214.98 97.21 L215.07 97.50 L215.15 97.79 L215.24 98.08 L215.32 98.37 L215.40 98.65 L215.48 98.94 L215.56 99.23 L215.64 99.52 L215.71 99.81 L215.79 100.10 L215.86 100.39 L215.89 100.49 M216.34 102.44 L216.40 102.73 L216.46 103.03 L216.52 103.32 L216.58 103.61 L216.63 103.91 L216.69 104.20 L216.74 104.50 L216.79 104.79 L216.85 105.09 L216.90 105.39 L216.94 105.68 L216.99 105.98 L217.04 106.27 L217.09 106.57 L217.13 106.87 L217.18 107.16 L217.22 107.46 L217.27 107.76 L217.31 108.05 L217.35 108.35 L217.40 108.65 L217.44 108.94 L217.45 109.04 M217.72 110.97 L217.74 111.27 L217.77 111.57 L217.80 111.87 L217.83 112.17 L217.85 112.47 L217.88 112.77 L217.91 113.06 L217.94 113.36 L217.96 113.66 L217.98 113.96 L217.99 114.26 L218.01 114.56 L218.02 114.86 L218.04 115.16 L218.05 115.46 L218.07 115.76 L218.08 116.06 L218.10 116.36 L218.11 116.66 L218.13 116.96 L218.14 117.26 L218.16 117.56 L218.16 117.71 M218.24 119.66 L218.24 119.96 L218.24 120.25 L218.24 120.55 L218.25 120.85 L218.25 121.15 L218.25 121.45 L218.26 121.75 L218.26 122.05 L218.26 122.35 L218.26 122.65 L218.27 122.95 L218.27 123.25 L218.27 123.55 L218.28 123.85 L218.28 124.15 L218.28 124.45 L218.28 124.75 L218.29 125.05 L218.29 125.35 L218.29 125.65 L218.29 125.95 L218.30 126.25 L218.30 126.35 M218.32 128.30 L218.32 128.60 L218.32 128.90 L218.33 129.20 L218.33 129.50 L218.33 129.80 L218.33 130.10 L218.34 130.40 L218.34 130.70 L218.34 131.00 L218.35 131.30 L218.35 131.60 L218.35 131.90 L218.35 132.20 L218.36 132.50 L218.36 132.80 L218.36 133.10 L218.36 133.40 L218.37 133.70 L218.37 134.00 L218.37 134.30 L218.38 134.60 L218.38 134.90 L218.38 135.05 M218.40 137.00 L218.40 137.30 L218.40 137.60 L218.41 137.90 L218.41 138.20 L218.41 138.50 L218.42 138.80 L218.42 139.10 L218.42 139.40 L218.42 139.70 L218.43 140.00 L218.43 140.30 L218.43 140.60 L218.44 140.90 L218.44 141.20 L218.44 141.50 L218.44 141.80 L218.45 142.10 L218.45 142.40 L218.45 142.70 L218.45 143.00 L218.46 143.30 L218.46 143.60 L218.46 143.75 M218.48 145.70 L218.48 146.00 L218.49 146.30 L218.49 146.60 L218.49 146.90 L218.49 147.20 L218.50 147.50 L218.50 147.80 M218.90 147.80 L218.90 147.50 L218.91 147.20 L218.91 146.90 L218.92 146.60 L218.92 146.30 L218.92 146.00 L218.93 145.70 L218.93 145.40 L218.94 145.10 L218.94 144.80 L218.94 144.50 L218.95 144.20 L218.95 143.90 L218.96 143.60 L218.96 143.30 L218.96 143.00 L218.97 142.70 L218.97 142.40 L218.98 142.10 L218.98 141.80 L218.98 141.50 L218.99 141.20 L218.99 141.05 M219.02 139.10 L219.02 138.80 L219.02 138.50 L219.03 138.20 L219.03 137.90 L219.04 137.60 L219.04 137.30 L219.05 137.00 L219.05 136.70 L219.05 136.40 L219.06 136.10 L219.06 135.80 L219.07 135.50 L219.07 135.20 L219.07 134.90 L219.08 134.60 L219.08 134.30 L219.09 134.00 L219.09 133.70 L219.09 133.40 L219.10 133.10 L219.10 132.80 L219.11 132.50 L219.11 132.35 M219.13 130.40 L219.14 130.10 L219.14 129.80 L219.15 129.50 L219.15 129.21 L219.16 128.91 L219.17 128.61 L219.17 128.31 L219.18 128.01 L219.19 127.71 L219.19 127.41 L219.20 127.11 L219.20 126.81 L219.21 126.51 L219.22 126.21 L219.22 125.91 L219.23 125.61 L219.24 125.31 L219.24 125.01 L219.25 124.71 L219.26 124.41 L219.26 124.11 L219.27 123.81 L219.27 123.71 M219.31 121.76 L219.32 121.46 L219.32 121.16 L219.33 120.86 L219.34 120.56 L219.34 120.26 L219.35 119.96 L219.36 119.66 L219.36 119.36 L219.37 119.06 L219.38 118.76 L219.38 118.46 L219.39 118.16 L219.41 117.86 L219.44 117.56 L219.46 117.26 L219.48 116.96 L219.50 116.66 L219.53 116.36 L219.55 116.07 L219.57 115.77 L219.59 115.47 L219.62 115.17 L219.63 115.02 M219.84 113.08 L219.87 112.78 L219.91 112.49 L219.95 112.19 L220.00 111.89 L220.04 111.60 L220.09 111.30 L220.14 111.00 L220.19 110.71 L220.25 110.41 L220.31 110.12 L220.36 109.82 L220.42 109.53 L220.48 109.24 L220.53 108.94 L220.59 108.65 L220.64 108.35 L220.69 108.05 L220.74 107.76 L220.78 107.46 L220.83 107.17 L220.88 106.87 L220.93 106.57 L220.95 106.48 M221.27 104.50 L221.32 104.21 L221.37 103.91 L221.42 103.61 L221.47 103.32 L221.52 103.02 L221.57 102.73 L221.62 102.43 L221.67 102.14 L221.73 101.84 L221.78 101.55 L221.83 101.25 L221.89 100.96 L221.95 100.66 L222.01 100.37 L222.06 100.07 L222.13 99.78 L222.19 99.49 L222.25 99.19 L222.32 98.90 L222.39 98.61 L222.46 98.32 L222.53 98.03 L222.55 97.93 M223.17 96.08 L223.28 95.80 L223.40 95.53 L223.51 95.25 L223.63 94.97 L223.75 94.70 L223.87 94.43 L224.00 94.15 L224.13 93.88 L224.26 93.61 L224.40 93.35 L224.54 93.08 L224.68 92.82 L224.83 92.56 L224.98 92.30 L225.13 92.04 L225.29 91.79 L225.45 91.53 L225.62 91.28 L225.79 91.04 L225.97 90.79 L226.15 90.56 L226.33 90.32 L226.43 90.20 M227.74 88.76 L227.95 88.55 L228.17 88.34 L228.39 88.14 L228.61 87.94 L228.84 87.74 L229.07 87.55 L229.30 87.36 L229.53 87.17 L229.77 86.99 L230.01 86.81 L230.25 86.63 L230.50 86.46 L230.75 86.29 L230.99 86.12 L231.24 85.95 L231.50 85.79 L231.75 85.63 L232.00 85.47 L232.26 85.32 L232.52 85.16 L232.77 85.01 L233.03 84.85 L233.12 84.80 M234.84 83.78 L235.09 83.62 L235.35 83.47 L235.60 83.31 L235.86 83.15 L236.12 83.00 L236.37 82.84 L236.63 82.69 L236.89 82.54 L237.15 82.39 L237.41 82.23 L237.67 82.08 L237.93 81.94 L238.19 81.79 L238.45 81.64 L238.71 81.50 L238.98 81.36 L239.24 81.22 L239.51 81.08 L239.78 80.94 L240.04 80.81 L240.31 80.68 L240.59 80.55 L240.68 80.51 M242.48 79.76 L242.76 79.65 L243.04 79.55 L243.32 79.45 L243.60 79.35 L243.89 79.25 L244.17 79.15 L244.45 79.05 L244.74 78.96 L245.02 78.87 L245.31 78.78 L245.60 78.69 L245.88 78.60 L246.17 78.51 L246.46 78.43 L246.75 78.35 L247.04 78.27 L247.33 78.19 L247.62 78.11 L247.91 78.04 L248.20 77.96 L248.49 77.89 L248.78 77.82 L248.93 77.79 M250.83 77.39 L251.13 77.34 L251.42 77.28 L251.72 77.22 L252.01 77.17 L252.31 77.12 L252.60 77.06 L252.90 77.01 L253.19 76.96 L253.49 76.91 L253.79 76.86 L254.08 76.81 L254.38 76.77 L254.68 76.72 L254.97 76.67 L255.27 76.63 L255.57 76.59 L255.86 76.54 L256.16 76.50 L256.46 76.46 L256.75 76.42 L257.05 76.38 L257.35 76.34 L257.45 76.33 M259.38 76.11 L259.68 76.08 L259.98 76.05 L260.28 76.02 L260.58 75.99 L260.88 75.96 L261.18 75.93 L261.47 75.90 L261.77 75.87 L262.07 75.84 L262.37 75.81 L262.67 75.79 L262.97 75.76 L263.27 75.73 L263.56 75.70 L263.86 75.67 L264.16 75.64 L264.46 75.61 L264.76 75.59 L265.06 75.56 L265.36 75.53 L265.65 75.50 L265.95 75.48 L266.10 75.46 M268.04 75.29 L268.34 75.27 L268.64 75.24 L268.94 75.22 L269.24 75.20 L269.54 75.17 L269.84 75.15 L270.14 75.12 L270.44 75.10 L270.74 75.08 L271.03 75.06 L271.33 75.03 L271.63 75.01 L271.93 74.99 L272.23 74.97 L272.53 74.95 L272.83 74.93 L273.13 74.91 L273.43 74.89 L273.73 74.87 L274.03 74.85 L274.33 74.83 L274.63 74.81 L274.73 74.81 M276.72 74.70 L277.02 74.68 L277.32 74.67 L277.62 74.65 L277.92 74.64 L278.22 74.63 L278.52 74.62 L278.82 74.60 L279.12 74.59 L279.42 74.58 L279.72 74.57 L280.02 74.56 L280.32 74.55 L280.62 74.54 L280.92 74.53 L281.22 74.53 L281.52 74.52 L281.82 74.51 L282.12 74.51 L282.42 74.50 L282.72 74.50 L283.02 74.49 L283.32 74.49 L283.42 74.48 M285.37 74.45 L285.67 74.45 L285.97 74.44 L286.27 74.44 L286.57 74.43 L286.87 74.43 L287.17 74.42 L287.47 74.42 L287.77 74.42 L288.07 74.41 L288.37 74.41 L288.67 74.40 L288.97 74.40 L289.27 74.39 L289.57 74.39 L289.87 74.39 L290.17 74.38 L290.47 74.38 L290.77 74.37 L291.07 74.37 L291.37 74.36 L291.66 74.36 L291.96 74.36 L292.11 74.35 M294.06 74.33 L294.36 74.33 L294.66 74.32 L294.96 74.32 L295.26 74.32 L295.56 74.31 L295.86 74.31 L296.16 74.31 L296.46 74.30 L296.76 74.30 L297.06 74.30 L297.36 74.29 L297.66 74.29 L297.96 74.29 L298.26 74.28 L298.56 74.28 L298.86 74.28 L299.16 74.28 L299.46 74.27 L299.76 74.27 L300.06 74.27 L300.36 74.27 L300.66 74.26 L300.76 74.26 M302.76 74.25 L303.06 74.24 L303.36 74.24 L303.66 74.24 L303.96 74.24 L304.26 74.24 L304.56 74.23 L304.86 74.23 L305.16 74.23 L305.46 74.23 L305.76 74.23 L306.06 74.22 L306.36 74.22 L306.66 74.22 L306.96 74.22 L307.26 74.22 L307.56 74.22 L307.86 74.22 L308.16 74.21 L308.46 74.21 L308.76 74.21 L309.06 74.21 L309.36 74.21 L309.46 74.21 M311.41 74.20 L311.71 74.20 L312.01 74.20 L312.31 74.20 L312.61 74.20 L312.91 74.20 L313.21 74.20 L313.51 74.20 L313.81 74.20 L314.11 74.20 L314.41 74.20 L314.71 74.20 L315.01 74.20 L315.31 74.20 L315.61 74.20 L315.91 74.20 L316.21 74.20 L316.51 74.20 L316.81 74.20 L317.11 74.20 L317.41 74.20 L317.71 74.20 L318.01 74.20 L318.16 74.20 M320.11 74.20 L320.41 74.20 L320.71 74.20 L321.01 74.20 L321.31 74.20 L321.61 74.20 L321.91 74.20 L322.21 74.20 L322.51 74.20 L322.81 74.20 L323.11 74.20 L323.41 74.20 L323.71 74.21 L324.01 74.21 L324.31 74.21 L324.61 74.21 L324.91 74.21 L325.21 74.21 L325.51 74.21 L325.81 74.21 L326.11 74.21 L326.41 74.21 L326.71 74.21 L326.81 74.21 M328.76 74.21 L329.06 74.22 L329.36 74.22 L329.66 74.22 L329.96 74.22 L330.26 74.22 L330.56 74.22 L330.86 74.22 L331.16 74.22 L331.46 74.22 L331.76 74.22 L332.06 74.22 L332.36 74.22 L332.66 74.23 L332.96 74.23 L333.26 74.23 L333.56 74.23 L333.86 74.23 L334.16 74.23 L334.46 74.23 L334.76 74.23 L335.06 74.23 L335.36 74.24 L335.51 74.24 M337.46 74.24 L337.76 74.25 L338.06 74.25 L338.36 74.25 L338.66 74.25 L338.96 74.25 L339.26 74.25 L339.56 74.25 L339.86 74.26 L340.16 74.26 L340.46 74.26 L340.76 74.26 L341.06 74.26 L341.36 74.26 L341.66 74.27 L341.96 74.27 L342.26 74.27 L342.56 74.27 L342.86 74.27 L343.16 74.28 L343.45 74.28 L343.75 74.28 L344.05 74.28 L344.20 74.28 M346.15 74.30 L346.45 74.30 L346.75 74.30 L347.05 74.30 L347.35 74.30 L347.65 74.31 L347.95 74.31 L348.25 74.31 L348.55 74.31 L348.85 74.32 L349.15 74.32 L349.45 74.32 L349.75 74.32 L350.05 74.33 L350.35 74.33 L350.65 74.33 L350.95 74.34 L351.25 74.34 L351.55 74.34 L351.85 74.34 L352.15 74.35 L352.45 74.35 L352.75 74.35 L352.85 74.35 M354.80 74.37 L355.10 74.38 L355.40 74.38 L355.70 74.38 L356.00 74.39 L356.30 74.39 L356.60 74.39 L356.90 74.40 L357.20 74.40 L357.50 74.40 L357.80 74.41 L358.10 74.41 L358.40 74.42 L358.70 74.42 L359.00 74.42 L359.30 74.43 L359.60 74.43 L359.90 74.43 L360.20 74.44 L360.50 74.44 L360.80 74.45 L361.10 74.45 L361.40 74.45 L361.55 74.46 M363.50 74.48 L363.80 74.49 L364.10 74.49 L364.40 74.50 L364.50 74.50" stroke="#aa0000" stroke-width="2.5"/>
<path d="M218.7 111 L218.7 147.8" stroke="#aa0000" stroke-width="2.1"/>
<path d="M57.00 35.20 L59.60 35.44 L62.19 35.67 L64.79 35.91 L67.39 36.14 L69.98 36.38 L72.58 36.61 L75.18 36.85 L77.77 37.08 L80.37 37.32 L82.97 37.55 L85.56 37.79 L88.16 38.02 L90.76 38.26 L93.35 38.50 L95.95 38.73 L98.55 38.97 L101.14 39.20 L103.74 39.44 L106.34 39.67 L108.93 39.90 L111.53 40.13 L114.13 40.36 L116.72 40.59 L119.32 40.82 L121.92 41.05 L124.51 41.29 L127.11 41.52 L129.71 41.76 L132.30 41.99 L134.90 42.23 L137.50 42.48 L140.09 42.72 L142.69 42.97 L145.29 43.23 L147.88 43.49 L150.48 43.76 L153.08 44.03 L155.67 44.31 L158.27 44.59 L160.87 44.87 L163.46 45.16 L166.06 45.45 L168.66 45.74 L171.25 46.03 L173.85 46.31 L176.45 46.59 L179.04 46.87 L181.64 47.15 L184.24 47.42 L186.83 47.68 L189.43 47.94 L192.03 48.20 L194.62 48.45 L197.22 48.71 L199.82 48.96 L202.41 49.20 L205.01 49.45 L207.61 49.70 L210.20 49.94 L212.80 50.18 L215.39 50.43 L217.99 50.67 L220.59 50.91 L223.18 51.16 L225.78 51.40 L228.38 51.65 L230.97 51.89 L233.57 52.14 L236.17 52.40 L238.76 52.66 L241.36 52.92 L243.96 53.18 L246.55 53.44 L249.15 53.70 L251.75 53.96 L254.34 54.21 L256.94 54.46 L259.54 54.71 L262.13 54.94 L264.73 55.17 L267.33 55.39 L269.92 55.59 L272.52 55.80 L275.12 56.00 L277.71 56.20 L280.31 56.40 L282.91 56.59 L285.50 56.78 L288.10 56.96 L290.70 57.12 L293.29 57.28 L295.89 57.42 L298.49 57.54 L301.08 57.64 L303.68 57.75 L306.28 57.85 L308.87 57.95 L311.47 58.03 L314.07 58.11 L316.66 58.16 L319.26 58.19 L321.86 58.20 L324.45 58.18 L327.05 58.15 L329.65 58.11 L332.24 58.04 L334.84 57.97 L337.44 57.89 L340.03 57.80 L342.63 57.70 L345.23 57.59 L347.82 57.44 L350.42 57.22 L353.02 56.95 L355.61 56.64 L358.21 56.31 L360.81 55.97 L363.40 55.64 L366.00 55.30" stroke="#000" stroke-width="2.35"/>
</g>
<rect x="58.5" y="26.3" width="305.9" height="189.7" stroke="#666" stroke-width="0.6" fill="none"/>
<g stroke="#555" stroke-width="0.6" fill="none">
<line x1="109.28" y1="216.00" x2="109.28" y2="212.00"/><line x1="109.28" y1="26.30" x2="109.28" y2="30.30"/><line x1="147.69" y1="216.00" x2="147.69" y2="212.00"/><line x1="147.69" y1="26.30" x2="147.69" y2="30.30"/><line x1="236.88" y1="216.00" x2="236.88" y2="212.00"/><line x1="236.88" y1="26.30" x2="236.88" y2="30.30"/><line x1="275.29" y1="216.00" x2="275.29" y2="212.00"/><line x1="275.29" y1="26.30" x2="275.29" y2="30.30"/><line x1="364.48" y1="216.00" x2="364.48" y2="212.00"/><line x1="364.48" y1="26.30" x2="364.48" y2="30.30"/><line x1="80.97" y1="216.00" x2="80.97" y2="214.40"/><line x1="80.97" y1="26.30" x2="80.97" y2="28.00"/><line x1="96.91" y1="216.00" x2="96.91" y2="214.40"/><line x1="96.91" y1="26.30" x2="96.91" y2="28.00"/><line x1="119.38" y1="216.00" x2="119.38" y2="214.40"/><line x1="119.38" y1="26.30" x2="119.38" y2="28.00"/><line x1="127.92" y1="216.00" x2="127.92" y2="214.40"/><line x1="127.92" y1="26.30" x2="127.92" y2="28.00"/><line x1="135.32" y1="216.00" x2="135.32" y2="214.40"/><line x1="135.32" y1="26.30" x2="135.32" y2="28.00"/><line x1="141.85" y1="216.00" x2="141.85" y2="214.40"/><line x1="141.85" y1="26.30" x2="141.85" y2="28.00"/><line x1="186.10" y1="216.00" x2="186.10" y2="214.40"/><line x1="186.10" y1="26.30" x2="186.10" y2="28.00"/><line x1="208.57" y1="216.00" x2="208.57" y2="214.40"/><line x1="208.57" y1="26.30" x2="208.57" y2="28.00"/><line x1="224.51" y1="216.00" x2="224.51" y2="214.40"/><line x1="224.51" y1="26.30" x2="224.51" y2="28.00"/><line x1="246.98" y1="216.00" x2="246.98" y2="214.40"/><line x1="246.98" y1="26.30" x2="246.98" y2="28.00"/><line x1="255.52" y1="216.00" x2="255.52" y2="214.40"/><line x1="255.52" y1="26.30" x2="255.52" y2="28.00"/><line x1="262.92" y1="216.00" x2="262.92" y2="214.40"/><line x1="262.92" y1="26.30" x2="262.92" y2="28.00"/><line x1="269.45" y1="216.00" x2="269.45" y2="214.40"/><line x1="269.45" y1="26.30" x2="269.45" y2="28.00"/><line x1="313.70" y1="216.00" x2="313.70" y2="214.40"/><line x1="313.70" y1="26.30" x2="313.70" y2="28.00"/><line x1="336.17" y1="216.00" x2="336.17" y2="214.40"/><line x1="336.17" y1="26.30" x2="336.17" y2="28.00"/><line x1="352.11" y1="216.00" x2="352.11" y2="214.40"/><line x1="352.11" y1="26.30" x2="352.11" y2="28.00"/><line x1="58.50" y1="57.05" x2="62.00" y2="57.05"/><line x1="364.40" y1="57.05" x2="360.90" y2="57.05"/><line x1="58.50" y1="110.03" x2="62.00" y2="110.03"/><line x1="364.40" y1="110.03" x2="360.90" y2="110.03"/><line x1="58.50" y1="163.01" x2="62.00" y2="163.01"/><line x1="364.40" y1="163.01" x2="360.90" y2="163.01"/><line x1="58.50" y1="215.99" x2="62.00" y2="215.99"/><line x1="364.40" y1="215.99" x2="360.90" y2="215.99"/><line x1="58.50" y1="58.65" x2="59.80" y2="58.65"/><line x1="364.40" y1="58.65" x2="363.10" y2="58.65"/><line x1="58.50" y1="60.95" x2="59.80" y2="60.95"/><line x1="364.40" y1="60.95" x2="363.10" y2="60.95"/><line x1="58.50" y1="63.35" x2="59.80" y2="63.35"/><line x1="364.40" y1="63.35" x2="363.10" y2="63.35"/><line x1="58.50" y1="66.30" x2="59.80" y2="66.30"/><line x1="364.40" y1="66.30" x2="363.10" y2="66.30"/><line x1="58.50" y1="69.55" x2="59.80" y2="69.55"/><line x1="364.40" y1="69.55" x2="363.10" y2="69.55"/><line x1="58.50" y1="73.95" x2="59.80" y2="73.95"/><line x1="364.40" y1="73.95" x2="363.10" y2="73.95"/><line x1="58.50" y1="81.45" x2="59.80" y2="81.45"/><line x1="364.40" y1="81.45" x2="363.10" y2="81.45"/><line x1="58.50" y1="111.63" x2="59.80" y2="111.63"/><line x1="364.40" y1="111.63" x2="363.10" y2="111.63"/><line x1="58.50" y1="113.93" x2="59.80" y2="113.93"/><line x1="364.40" y1="113.93" x2="363.10" y2="113.93"/><line x1="58.50" y1="116.33" x2="59.80" y2="116.33"/><line x1="364.40" y1="116.33" x2="363.10" y2="116.33"/><line x1="58.50" y1="119.28" x2="59.80" y2="119.28"/><line x1="364.40" y1="119.28" x2="363.10" y2="119.28"/><line x1="58.50" y1="122.53" x2="59.80" y2="122.53"/><line x1="364.40" y1="122.53" x2="363.10" y2="122.53"/><line x1="58.50" y1="126.93" x2="59.80" y2="126.93"/><line x1="364.40" y1="126.93" x2="363.10" y2="126.93"/><line x1="58.50" y1="134.43" x2="59.80" y2="134.43"/><line x1="364.40" y1="134.43" x2="363.10" y2="134.43"/><line x1="58.50" y1="164.61" x2="59.80" y2="164.61"/><line x1="364.40" y1="164.61" x2="363.10" y2="164.61"/><line x1="58.50" y1="166.91" x2="59.80" y2="166.91"/><line x1="364.40" y1="166.91" x2="363.10" y2="166.91"/><line x1="58.50" y1="169.31" x2="59.80" y2="169.31"/><line x1="364.40" y1="169.31" x2="363.10" y2="169.31"/><line x1="58.50" y1="172.26" x2="59.80" y2="172.26"/><line x1="364.40" y1="172.26" x2="363.10" y2="172.26"/><line x1="58.50" y1="175.51" x2="59.80" y2="175.51"/><line x1="364.40" y1="175.51" x2="363.10" y2="175.51"/><line x1="58.50" y1="179.91" x2="59.80" y2="179.91"/><line x1="364.40" y1="179.91" x2="363.10" y2="179.91"/><line x1="58.50" y1="187.41" x2="59.80" y2="187.41"/><line x1="364.40" y1="187.41" x2="363.10" y2="187.41"/>
</g>
<g font-size="14" fill="#000">
<text transform="translate(109.28,232.3) scale(0.910,1)" text-anchor="middle">5</text><text transform="translate(147.69,232.3) scale(0.910,1)" text-anchor="middle">10</text><text transform="translate(236.88,232.3) scale(0.910,1)" text-anchor="middle">50</text><text transform="translate(275.29,232.3) scale(0.910,1)" text-anchor="middle">100</text><text transform="translate(364.48,232.3) scale(0.910,1)" text-anchor="middle">500</text>
<text transform="translate(54.3,62.05) scale(0.910,1)" text-anchor="end">0.1</text><text transform="translate(54.3,115.03) scale(0.910,1)" text-anchor="end">0.001</text><text transform="translate(54.3,168.90) scale(0.910,1)" text-anchor="end">10<tspan dy="-4.3" font-size="10">−</tspan><tspan dy="-0.9" font-size="10">5</tspan></text><text transform="translate(54.3,220.90) scale(0.910,1)" text-anchor="end">10<tspan dy="-4.3" font-size="10">−</tspan><tspan dy="-0.9" font-size="10">7</tspan></text>
</g>
<g fill="none" stroke-width="2.5">
<line x1="73.1" y1="113.1" x2="106" y2="113.1" stroke="#0000b4" stroke-dasharray="3.7 1.75 6.95 1.8"/>
<line x1="73.1" y1="141.9" x2="106" y2="141.9" stroke="#aa00aa" stroke-dasharray="3.6 1.85"/>
<line x1="73.1" y1="170.7" x2="106" y2="170.7" stroke="#aa0000" stroke-dasharray="6.9 1.9"/>
<line x1="73.1" y1="199.4" x2="106" y2="199.4" stroke="#000"/>
</g>
<g font-size="15" fill="#000">
<text x="114.8" y="119.3">w/o potential</text>
<text x="114.8" y="148.3">w/o lensing</text>
<text x="114.8" y="176.7">w/o velocity</text>
<text x="114.8" y="205.3">sample variance</text>
</g>
<text transform="translate(206.5,257.9) skewX(-12)" font-size="15" font-style="italic">ℓ</text>
<text transform="translate(15.3,125.8) rotate(-90) scale(0.92,1)" font-size="17" font-style="italic">ϵ</text>
<text transform="translate(17.3,120.5) rotate(-90) skewX(-14)" font-size="11" font-style="italic">ℓ</text>
</svg>
</body></html>
